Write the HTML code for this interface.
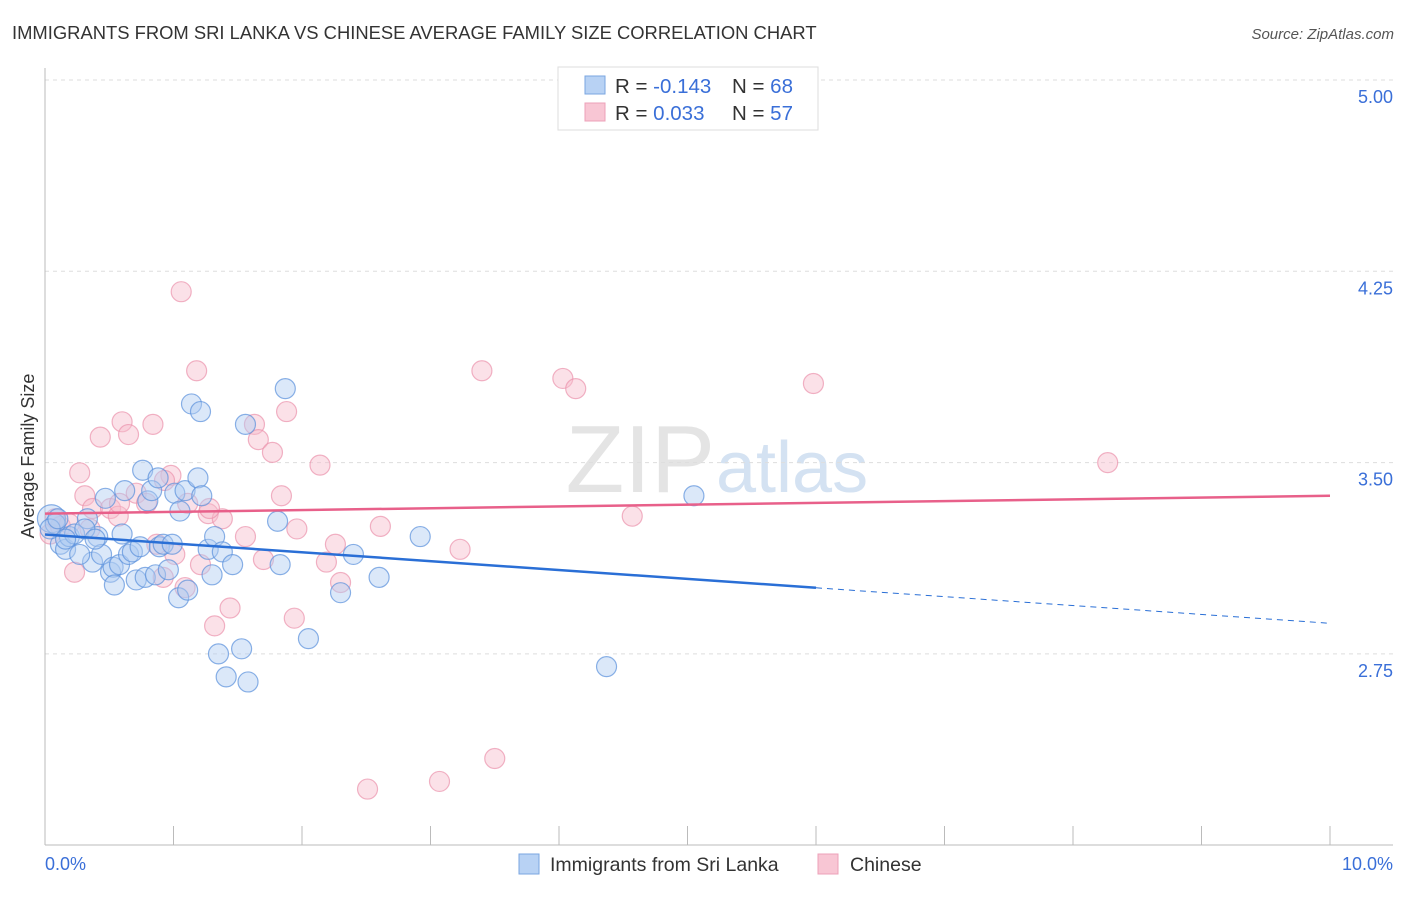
<!DOCTYPE html>
<html><head><meta charset="utf-8"><style>
body{margin:0;background:#fff;font-family:"Liberation Sans",sans-serif;}
svg text{font-family:"Liberation Sans",sans-serif;}
</style></head><body>
<svg id="chart" width="1406" height="892" xmlns="http://www.w3.org/2000/svg">
<text x="12" y="39" font-size="18.4" fill="#333">IMMIGRANTS FROM SRI LANKA VS CHINESE AVERAGE FAMILY SIZE CORRELATION CHART</text>
<text x="1394" y="39" font-size="15" fill="#555" text-anchor="end" font-style="italic">Source: ZipAtlas.com</text>
<text x="715" y="492" font-size="96" fill="#e4e4e4" text-anchor="end" font-family="Liberation Serif">ZIP</text>
<text x="716" y="492" font-size="72" fill="#d4e2f2">atlas</text>
<g id="grid"></g>
<line x1="45" y1="68" x2="45" y2="845" stroke="#bbb"/>
<line x1="45" y1="845" x2="1393" y2="845" stroke="#bbb"/>
<g id="xticks"></g>
<text x="45" y="870" font-size="18" fill="#3a6fd8">0.0%</text>
<text x="1393" y="870" font-size="18" fill="#3a6fd8" text-anchor="end">10.0%</text>
<text transform="translate(34,456) rotate(-90)" font-size="18" fill="#333" text-anchor="middle">Average Family Size</text>
<g id="points"></g>
<g id="lines"></g>
<g>
<rect x="558" y="67" width="260" height="63" fill="#fff" stroke="#ddd"/>
<rect x="585" y="76" width="20" height="18" fill="#b8d2f4" stroke="#7aa6e0"/>
<rect x="585" y="103" width="20" height="18" fill="#f8c6d4" stroke="#eda0b8"/>
<text x="615" y="93" font-size="20.5" fill="#333">R = <tspan fill="#3a6fd8">-0.143</tspan></text>
<text x="732" y="93" font-size="20.5" fill="#333">N = <tspan fill="#3a6fd8">68</tspan></text>
<text x="615" y="120" font-size="20.5" fill="#333">R = <tspan fill="#3a6fd8"> 0.033</tspan></text>
<text x="732" y="120" font-size="20.5" fill="#333">N = <tspan fill="#3a6fd8">57</tspan></text>
</g>
<g>
<rect x="519" y="854" width="20" height="20" fill="#b8d2f4" stroke="#7aa6e0"/>
<text x="550" y="871" font-size="19.5" fill="#333">Immigrants from Sri Lanka</text>
<rect x="818" y="854" width="20" height="20" fill="#f8c6d4" stroke="#eda0b8"/>
<text x="850" y="871" font-size="19.5" fill="#333">Chinese</text>
</g>
</svg>
<script>
const yTicks=[5.00,4.25,3.50,2.75];
const xTickCount=10;
const blueX=[.05,.08,.12,.16,.19,.23,.33,.37,.41,.44,.47,.51,.53,.54,.58,.60,.62,.65,.68,.71,.74,.76,.78,.80,.83,.86,.88,.89,.92,.96,.99,1.01,1.04,1.05,1.09,1.11,1.14,1.19,1.21,1.22,1.27,1.30,1.32,1.35,1.38,1.41,1.46,1.53,1.56,1.58,1.81,1.83,1.87,2.05,2.30,2.40,2.60,2.92,4.37,5.05,.04,.10,.27,.16,.31,.39];
const blueY=[3.28,3.26,3.18,3.16,3.21,3.22,3.28,3.11,3.21,3.14,3.36,3.07,3.09,3.02,3.10,3.22,3.39,3.14,3.15,3.04,3.17,3.47,3.05,3.35,3.39,3.06,3.44,3.17,3.18,3.08,3.18,3.38,2.97,3.31,3.39,3.00,3.73,3.44,3.70,3.37,3.16,3.06,3.21,2.75,3.15,2.66,3.10,2.77,3.65,2.64,3.27,3.10,3.79,2.81,2.99,3.14,3.05,3.21,2.70,3.37,3.24,3.28,3.14,3.20,3.24,3.20];
const pinkX=[.04,.08,.12,.23,.27,.31,.37,.43,.51,.57,.60,.65,.71,.79,.84,.87,.92,.98,1.01,1.06,1.09,1.11,1.18,1.21,1.27,1.32,1.38,1.44,1.56,1.63,1.66,1.70,1.77,1.84,1.88,1.94,1.96,2.14,2.19,2.26,2.30,2.51,2.61,3.07,3.23,3.40,3.50,4.03,4.13,4.57,5.98,8.27,.19,.35,.58,.93,1.28];
const pinkY=[3.22,3.28,3.25,3.07,3.46,3.37,3.32,3.60,3.32,3.29,3.66,3.61,3.38,3.34,3.65,3.18,3.05,3.45,3.14,4.17,3.01,3.34,3.86,3.10,3.30,2.86,3.28,2.93,3.21,3.65,3.59,3.12,3.54,3.37,3.70,2.89,3.24,3.49,3.11,3.18,3.03,2.22,3.25,2.25,3.16,3.86,2.34,3.83,3.79,3.29,3.81,3.50,3.26,3.24,3.34,3.43,3.32];
const blueTrend=[3.218,2.87];
const blueSolidEnd=6.0;
const pinkTrend=[3.30,3.37];
const NS="http://www.w3.org/2000/svg";
function xs(v){return 45+v*128.5;}
function ys(v){return 80+(5-v)/0.75*191.3;}
function mk(tag,attrs,parent){const e=document.createElementNS(NS,tag);for(const k in attrs)e.setAttribute(k,attrs[k]);document.getElementById(parent).appendChild(e);return e;}
yTicks.forEach(t=>{
 const l=mk('line',{x1:45,x2:1393,y1:ys(t),y2:ys(t),stroke:'#ddd','stroke-dasharray':'4,4'},'grid');
 
 
 const tx=mk('text',{x:1393,y:ys(t)+23,'font-size':18,fill:'#3a6fd8','text-anchor':'end'},'grid');
 tx.textContent=t.toFixed(2);
 
 
});
for(let i=1;i<=xTickCount;i++){
 const l=mk('line',{x1:xs(i),x2:xs(i),y1:826,y2:845,stroke:'#bbb'},'xticks');
 
 
}
function dots(X,Y,fill,stroke,name){
 X.forEach((x,i)=>{
  const c=mk('circle',{cx:xs(x),cy:ys(Y[i]),r:(i===0&&name==='blue-point')?14:10,fill:fill,'fill-opacity':0.45,stroke:stroke,'stroke-opacity':0.7,'stroke-width':1.2},'points');
  
  
 });
}
dots(pinkX,pinkY,'#f7bccc','#eb93ad','pink-point');
dots(blueX,blueY,'#b0cdf2','#5a90dc','blue-point');
function ty(tr,x){return tr[0]+(tr[1]-tr[0])*x/10;}
let l=mk('line',{x1:xs(0),y1:ys(ty(blueTrend,0)),x2:xs(blueSolidEnd),y2:ys(ty(blueTrend,blueSolidEnd)),stroke:'#2a6fd6','stroke-width':2.5},'lines');


l=mk('line',{x1:xs(blueSolidEnd),y1:ys(ty(blueTrend,blueSolidEnd)),x2:xs(10),y2:ys(ty(blueTrend,10)),stroke:'#2a6fd6','stroke-width':1,'stroke-dasharray':'6,5'},'lines');


l=mk('line',{x1:xs(0),y1:ys(ty(pinkTrend,0)),x2:xs(10),y2:ys(ty(pinkTrend,10)),stroke:'#e8608a','stroke-width':2.5},'lines');


</script>
</body></html>
